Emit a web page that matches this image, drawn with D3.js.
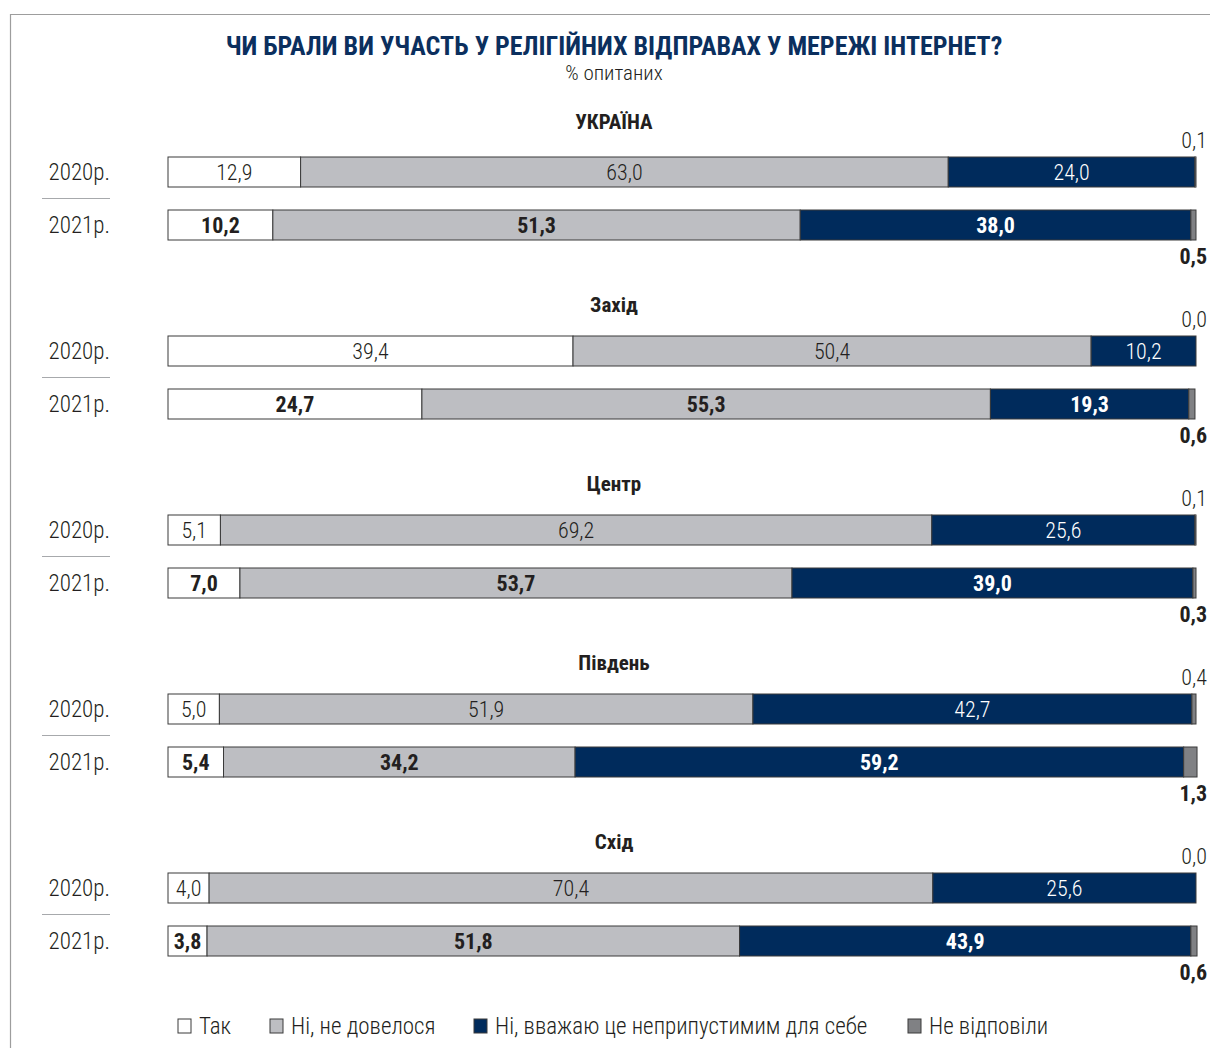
<!DOCTYPE html>
<html><head><meta charset="utf-8">
<script src="https://cdn.jsdelivr.net/npm/d3@7"></script>
<style>
body{margin:0;background:#fff;}
svg{display:block;}
text{font-family:"Liberation Sans Narrow","Roboto Condensed",Roboto,sans-serif;}
</style></head>
<body>
<svg id="chart" width="1210" height="1048"></svg>
<script>
const title = "ЧИ БРАЛИ ВИ УЧАСТЬ У РЕЛІГІЙНИХ ВІДПРАВАХ У МЕРЕЖІ ІНТЕРНЕТ?";
const subtitle = "% опитаних";
const regions = ["УКРАЇНА","Захід","Центр","Південь","Схід"];
const years = ["2020р.","2021р."];
const seriesNames = ["Так","Ні, не довелося","Ні, вважаю це неприпустимим для себе","Не відповіли"];
const seriesColors = ["#ffffff","#bdbec2","#002b5c","#808184"];
const textColors = ["#231f20","#231f20","#ffffff","#231f20"];
// values per region: [Так, Ні не довелося, Ні неприпустимо, Не відповіли]
const yes2020 =   [12.9, 39.4, 5.1, 5.0, 4.0];
const no2020 =    [63.0, 50.4, 69.2, 51.9, 70.4];
const never2020 = [24.0, 10.2, 25.6, 42.7, 25.6];
const na2020 =    [0.1, 0.0, 0.1, 0.4, 0.0];
const yes2021 =   [10.2, 24.7, 7.0, 5.4, 3.8];
const no2021 =    [51.3, 55.3, 53.7, 34.2, 51.8];
const never2021 = [38.0, 19.3, 39.0, 59.2, 43.9];
const na2021 =    [0.5, 0.6, 0.3, 1.3, 0.6];

const fmt = v => v.toFixed(1).replace(".", ",");
const svg = d3.select("#chart");

// frame
svg.append("path").attr("d","M10.5,1048 V14.5 H1210").attr("fill","none").attr("stroke","#9d9d9d").attr("stroke-width",1.2);

svg.append("text").attr("x",614).attr("y",55).attr("text-anchor","middle")
  .attr("font-size",26).attr("font-weight",700).attr("fill","#0b2f5e").text(title);
svg.append("text").attr("x",614).attr("y",80).attr("text-anchor","middle")
  .attr("font-size",21).attr("font-weight",300).attr("fill","#231f20").text(subtitle);

const x = d3.scaleLinear().domain([0,100]).range([168,1196]);
const gy = d3.scaleBand().domain(regions).range([103, 103+179*5]);
const by = d3.scaleBand().domain(years).range([54, 137]).paddingInner(23/53).paddingOuter(0);

const rows = [];
regions.forEach((r,i)=>{
  rows.push({region:r, year:years[0], vals:[yes2020[i],no2020[i],never2020[i],na2020[i]]});
  rows.push({region:r, year:years[1], vals:[yes2021[i],no2021[i],never2021[i],na2021[i]]});
});

regions.forEach((r,i)=>{
  svg.append("text").attr("x",614).attr("y",gy(r)+(i===0?26:30)).attr("text-anchor","middle")
    .attr("font-size",21).attr("font-weight",700).attr("fill","#231f20").text(r);
  const mid = gy(r) + (by(years[0])+by.bandwidth() + by(years[1]))/2;
  svg.append("line").attr("x1",42).attr("x2",110).attr("y1",mid).attr("y2",mid)
    .attr("stroke","#a7a9ac").attr("stroke-width",1.2);
});

rows.forEach(row=>{
  const y0 = gy(row.region) + by(row.year);
  const h = by.bandwidth();
  const bold = row.year === years[1];
  const g = svg.append("g");
  g.append("text").attr("x",110).attr("y",y0+h/2+8).attr("text-anchor","end")
    .attr("font-size",23).attr("fill","#231f20").attr("font-weight",300).text(row.year);
  let cum = 0;
  const segs = row.vals.map((v,k)=>{const s={k,v,x0:cum,x1:cum+v}; cum+=v; return s;});
  g.selectAll("rect.seg").data(segs).join("rect").attr("class","seg")
    .attr("x",d=>x(d.x0)).attr("y",y0).attr("width",d=>Math.max(0,x(d.x1)-x(d.x0))).attr("height",h)
    .attr("fill",d=>seriesColors[d.k]).attr("stroke","#3a3a3a").attr("stroke-width",1);
  g.selectAll("text.lab").data(segs.slice(0,3)).join("text").attr("class","lab")
    .attr("x",d=>(x(d.x0)+x(d.x1))/2).attr("y",y0+h/2+8).attr("text-anchor","middle")
    .attr("font-size",22).attr("font-weight",bold?700:300).attr("fill",d=>textColors[d.k])
    .text(d=>fmt(d.v));
  const na = segs[3];
  g.append("text").attr("x",1207).attr("y", bold ? y0+h+24 : y0-9).attr("text-anchor","end")
    .attr("font-size",22).attr("font-weight",bold?700:300).attr("fill","#231f20").text(fmt(na.v));
});

// legend
const lx = [178, 270, 474, 908];
const lg = svg.append("g").selectAll("g").data(seriesNames).join("g")
  .attr("transform",(d,i)=>`translate(${lx[i]},1026)`);
lg.append("rect").attr("x",0).attr("y",-7).attr("width",13).attr("height",14)
  .attr("fill",(d,i)=>seriesColors[i]).attr("stroke","#3a3a3a").attr("stroke-width",1);
lg.append("text").attr("x",21).attr("y",8).attr("font-size",23).attr("font-weight",300)
  .attr("fill","#231f20").text(d=>d);
</script>
</body></html>
